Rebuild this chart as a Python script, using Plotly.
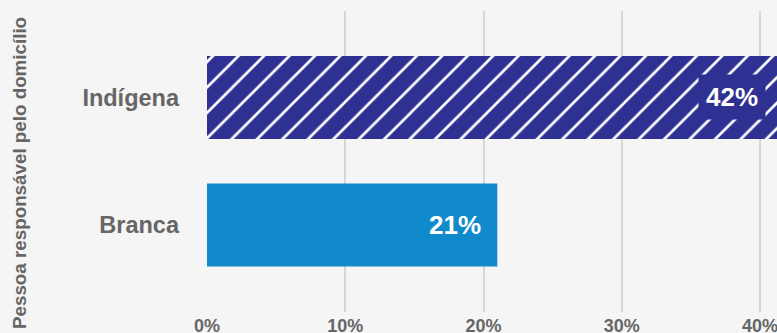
import plotly.graph_objects as go

categories = ["Branca", "Indígena"]
values = [21, 42]
bar_colors = ["#118acb", "#2e3192"]
patterns = ["", "/"]
tick_vals = [0, 10, 20, 30, 40]
tick_text = ["0%", "10%", "20%", "30%", "40%"]
axis_title = "Pessoa responsável pelo domicílio"

XMAX = 41.23
FONT = "Liberation Sans, Arial, Helvetica, sans-serif"

fig = go.Figure()
fig.add_trace(go.Bar(
    y=categories, x=values, orientation="h", width=0.65,
    marker=dict(color=bar_colors, line=dict(width=0),
                pattern=dict(shape=patterns, fgcolor="#ffffff", fgopacity=1,
                             size=18, solidity=0.15, fillmode="overlay")),
    hoverinfo="skip",
))

label_shift = [-15, -18]
label_pad = [2, 7]
for c, v, col, sh, pad in zip(categories, values, bar_colors, label_shift, label_pad):
    fig.add_annotation(
        x=min(v, XMAX), y=c, xref="x", yref="y", text=f"{v}%",
        xanchor="right", yanchor="middle", xshift=sh + pad, showarrow=False,
        font=dict(family=FONT, size=26, color="white", weight="bold"),
        bgcolor=col, borderpad=pad,
    )

fig.add_annotation(
    xref="paper", yref="paper", x=(19 - 207) / 570, y=(333 - 173 - 21) / 301,
    text=f"<b>{axis_title}</b>",
    textangle=-90, showarrow=False, xanchor="center", yanchor="middle",
    font=dict(family=FONT, size=18.8, color="#666666"),
)

fig.update_layout(
    width=777, height=333,
    margin=dict(l=207, r=0, t=11, b=21, autoexpand=False),
    paper_bgcolor="#f5f5f5", plot_bgcolor="#f5f5f5",
    showlegend=False,
    font=dict(family=FONT),
    xaxis=dict(range=[0, XMAX], tickvals=tick_vals, ticktext=tick_text,
               showgrid=True, gridcolor="#d6d6d6", gridwidth=2,
               zeroline=False, showline=False, ticks="", automargin=False,
               ticklabeloverflow="allow", ticklabelstandoff=1,
               tickfont=dict(family=FONT, size=18, color="#666666", weight="bold"),
               fixedrange=True),
    yaxis=dict(range=[-0.682, 1.678], showgrid=False, zeroline=False,
               showline=False, ticks="", ticklabelstandoff=27, automargin=False,
               tickfont=dict(family=FONT, size=23.5, color="#666666", weight="bold"),
               fixedrange=True),
)

fig.write_html(
    "out.html",
    config={"displayModeBar": False},
    post_script="document.body.style.margin='0';document.body.style.background='#f5f5f5';document.body.style.overflow='hidden';",
)
